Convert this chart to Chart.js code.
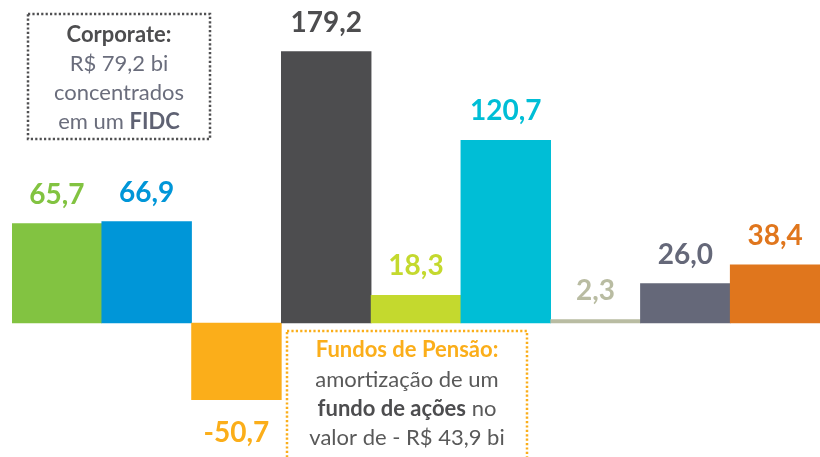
<!DOCTYPE html>
<html>
<head>
<meta charset="utf-8">
<script src="https://cdn.jsdelivr.net/npm/chart.js@4"></script>
<style>
html,body{margin:0;padding:0;background:#fff;}
#wrap{position:relative;width:820px;height:457px;}
</style>
</head>
<body>
<div id="wrap"><canvas id="c"></canvas></div>
<script>
const categories = ['Corporate A','Corporate B','Fundos de Pensão','Cat 4','Cat 5','Cat 6','Cat 7','Cat 8','Cat 9'];
const values = [65.7, 66.9, -50.7, 179.2, 18.3, 120.7, 2.3, 26.0, 38.4];
const valueLabels = ['65,7','66,9','-50,7','179,2','18,3','120,7','2,3','26,0','38,4'];
const barColors = ['#82C341','#0096D8','#FBAE1A','#4D4D4F','#C4D92E','#00BED6','#B9BCA2','#656879','#E0761D'];
const labelColors = ['#82C341','#0096D8','#FBAE1A','#4D4D4F','#C4D92E','#00BED6','#B9BCA2','#656879','#E0761D'];

const corporateLines = [
  [{t:'Corporate:', b:true, c:'#4D4D4F'}],
  [{t:'R$ 79,2 bi', b:false, c:'#6A6D7C'}],
  [{t:'concentrados', b:false, c:'#6A6D7C'}],
  [{t:'em um ', b:false, c:'#6A6D7C'},{t:'FIDC', b:true, c:'#5F6273'}]
];
const pensaoLines = [
  [{t:'Fundos de Pensão:', b:true, c:'#FBAE1A'}],
  [{t:'amortização de um', b:false, c:'#595959'}],
  [{t:'fundo de ações', b:true, c:'#4D4D4F'},{t:' no', b:false, c:'#595959'}],
  [{t:'valor de - R$ 43,9 bi', b:false, c:'#595959'}]
];

const FONT = 'Lato, "Open Sans", sans-serif';

function drawRichLines(ctx, lines, cx, baselines, size){
  lines.forEach((segs, li) => {
    let total = 0;
    segs.forEach(s => { ctx.font = (s.b?'bold ':'') + size + 'px ' + FONT; s.w = ctx.measureText(s.t).width; total += s.w; });
    let x = cx - total/2;
    segs.forEach(s => {
      ctx.font = (s.b?'bold ':'') + size + 'px ' + FONT;
      ctx.fillStyle = s.c;
      ctx.textAlign = 'left';
      ctx.textBaseline = 'alphabetic';
      ctx.fillText(s.t, x, baselines[li]);
      x += s.w;
    });
  });
}

const overlay = {
  id: 'overlay',
  afterDatasetsDraw(chart){
    const ctx = chart.ctx;
    const meta = chart.getDatasetMeta(0);
    ctx.save();
    // value labels
    meta.data.forEach((bar, i) => {
      ctx.font = 'bold 28px ' + FONT;
      ctx.fillStyle = labelColors[i];
      ctx.textAlign = 'center';
      ctx.textBaseline = 'alphabetic';
      if (values[i] >= 0) {
        ctx.fillText(valueLabels[i], bar.x, bar.y - 20);
      } else {
        ctx.fillText(valueLabels[i], bar.x, bar.y + 42);
      }
    });
    // Corporate box
    ctx.lineWidth = 2.5;
    ctx.setLineDash([2.2, 2.2]);
    ctx.strokeStyle = '#505052';
    ctx.strokeRect(28, 14, 182, 125);
    // Pensao box
    ctx.strokeStyle = '#FBAE1A';
    ctx.strokeRect(287, 331, 240, 140);
    ctx.setLineDash([]);
    drawRichLines(ctx, corporateLines, 119, [41.5, 71, 100, 128.5], 22);
    drawRichLines(ctx, pensaoLines, 407, [356.5, 387, 416, 445], 22);
    ctx.restore();
  }
};

new Chart(document.getElementById('c'), {
  type: 'bar',
  data: {
    labels: categories,
    datasets: [{
      data: values,
      backgroundColor: barColors,
      borderWidth: 0,
      categoryPercentage: 1.0,
      barPercentage: 1.0
    }]
  },
  options: {
    responsive: true,
    maintainAspectRatio: false,
    animation: false,
    layout: { padding: { left: 12, right: 0, top: 0, bottom: 0 } },
    plugins: { legend: { display: false }, tooltip: { enabled: false } },
    scales: {
      x: { display: false },
      y: { display: false, min: -88.5, max: 213.3 }
    }
  },
  plugins: [overlay]
});
</script>
</body>
</html>
